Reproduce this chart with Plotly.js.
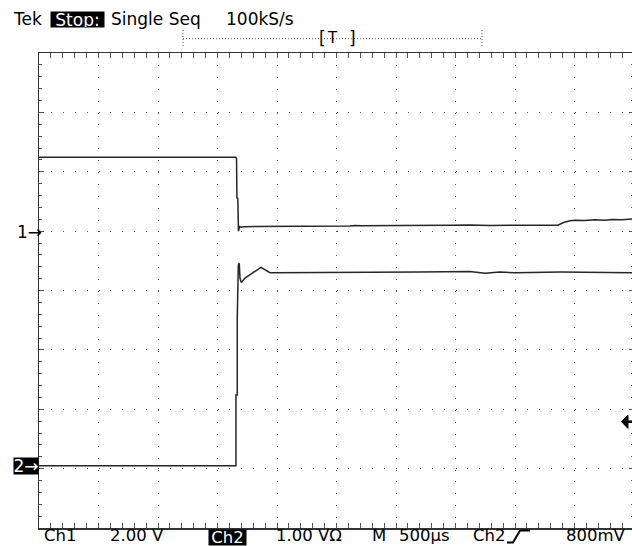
<!DOCTYPE html>
<html><head><meta charset="utf-8">
<script src="https://cdn.plot.ly/plotly-3.0.1.min.js"></script>
<style>html,body{margin:0;padding:0;overflow:hidden;background:#fff;width:632px;height:546px}</style>
</head><body><div id="chart"></div>
<script>
// ---- data (time in ms from left of screen, volts) ----
const ch1Time  = [0, 1.654, 1.660, 1.663, 1.671, 1.676, 1.686, 1.697, 1.723, 1.790, 1.815, 1.840, 1.874, 1.983, 2.193, 2.361, 2.613, 2.655, 2.714, 3.034, 3.286, 3.336, 3.454, 3.622, 3.790, 4.042, 4.361, 4.403, 4.462, 4.504, 4.588, 4.672, 4.756, 4.815, 4.899, 5.000];
const ch1Volts = [2.49, 2.49, 2.44, 1.13, 1.10, 0.00, 0.15, 0.13, 0.15, 0.15, 0.17, 0.15, 0.16, 0.15, 0.15, 0.16, 0.17, 0.19, 0.18, 0.19, 0.21, 0.19, 0.20, 0.21, 0.19, 0.20, 0.20, 0.28, 0.35, 0.37, 0.36, 0.38, 0.37, 0.39, 0.38, 0.41];
const ch2Time  = [0, 1.655, 1.655, 1.666, 1.666, 1.675, 1.683, 1.689, 1.697, 1.703, 1.731, 1.790, 1.866, 1.941, 2.200, 2.800, 3.200, 3.620, 3.750, 3.870, 4.000, 4.380, 4.720, 4.920, 5.000];
const ch2Volts = [0, 0, 1.19, 1.19, 2.49, 3.38, 3.41, 3.16, 3.10, 3.09, 3.16, 3.24, 3.34, 3.25, 3.25, 3.26, 3.26, 3.27, 3.24, 3.26, 3.25, 3.26, 3.25, 3.24, 3.25];

const headerTexts = ["Tek", "Stop:", "Single Seq", "100kS/s"];
const footerTexts = ["Ch1", "2.00 V", "Ch2", "1.00 VΩ", "M", "500µs", "Ch2", "800mV"];
const channelMarks = ["1→", "2→"];
const triggerMarks = ["[", "T", "]"];

// ---- layout geometry (pixels) ----
const W = 640, H = 546, L = 39, T = 53, PW = 595, PH = 475;
const px = x => (x - L) / PW;
const py = y => (T + PH - y) / PH;
const FONT = "DejaVu Sans";

function ann(text, x, y, opts) {
  return Object.assign({
    text: text, xref: 'paper', yref: 'paper', x: px(x), y: py(y),
    xanchor: 'left', yanchor: 'middle', showarrow: false, borderpad: 0,
    font: {family: FONT, size: 17, color: '#000'}
  }, opts || {});
}
const FY = 535.5;
const footFont = {family: FONT, size: 16.5, color: '#000'};

const annotations = [
  ann(headerTexts[0], 12, 18.5),
  ann(headerTexts[1], 77.5, 19.2, {xanchor: 'center', bgcolor: '#000', width: 53, height: 15, font: {family: FONT, size: 17, color: '#fff'}}),
  ann(headerTexts[2], 110, 18.5),
  ann(headerTexts[3], 225, 18.5),
  ann(footerTexts[0], 43, FY, {font: footFont}),
  ann(footerTexts[1], 109, FY, {font: footFont}),
  ann(footerTexts[2], 227.5, 537, {xanchor: 'center', bgcolor: '#000', width: 37, height: 15, font: {family: FONT, size: 16.5, color: '#fff'}}),
  ann(footerTexts[3], 275, FY, {font: footFont}),
  ann(footerTexts[4], 371, FY, {font: footFont}),
  ann(footerTexts[5], 398, FY, {font: footFont}),
  ann(footerTexts[6], 471.5, FY, {font: footFont}),
  ann(footerTexts[7], 565, FY, {font: footFont}),
  ann(channelMarks[0], 16, 232),
  ann(channelMarks[1], 26, 466, {xanchor: 'center', bgcolor: '#000', width: 24, height: 16, font: {family: FONT, size: 17, color: '#fff'}}),
  ann(triggerMarks[0], 322, 38.5, {xanchor: 'center', font: {family: FONT, size: 17, color: '#000'}}),
  ann(triggerMarks[1], 332, 38, {xanchor: 'center', font: {family: FONT, size: 15, color: '#000'}}),
  ann(triggerMarks[2], 352, 38.5, {xanchor: 'center', font: {family: FONT, size: 17, color: '#000'}})
];

function pline(x0, y0, x1, y1, color, width, dash) {
  return {type: 'line', xref: 'paper', yref: 'paper', x0: px(x0), y0: py(y0), x1: px(x1), y1: py(y1),
          line: {color: color, width: width, dash: dash || 'solid'}};
}
function ppath(points, close, fill, color, width) {
  let d = points.map((p, i) => (i ? 'L' : 'M') + px(p[0]) + ',' + py(p[1])).join(' ');
  if (close) d += ' Z';
  return {type: 'path', xref: 'paper', yref: 'paper', path: d,
          fillcolor: fill || 'rgba(0,0,0,0)', line: {color: color, width: width}};
}

const shapes = [
  pline(183, 38.7, 482, 38.7, '#555', 1, '1px,2px'),
  pline(183, 30, 183, 47, '#555', 1, '1px,2px'),
  pline(482, 30, 482, 47, '#555', 1, '1px,2px'),
  ppath([[621.5, 421.7], [628, 415], [628, 428.4]], true, '#000', '#000', 1),
  pline(627, 421.7, 633, 421.7, '#000', 2.5),
  ppath([[507, 542.5], [513, 542.5], [520, 530.5], [530, 530.5]], false, null, '#000', 2)
];

const gridDash = '1px,10.9px';
const axisCommon = {
  showgrid: true, gridcolor: '#555', gridwidth: 1, griddash: gridDash,
  showline: true, linecolor: '#333', linewidth: 1.5, mirror: 'allticks',
  ticks: 'inside', ticklen: 5, tickcolor: '#555', tickwidth: 1,
  showticklabels: false, zeroline: false, fixedrange: true
};

const data = [
  {x: ch1Time, y: ch1Volts, type: 'scatter', mode: 'lines', name: 'Ch1', yaxis: 'y',
   line: {color: '#262626', width: 1.5}, hoverinfo: 'skip'},
  {x: ch2Time, y: ch2Volts, type: 'scatter', mode: 'lines', name: 'Ch2', yaxis: 'y2',
   line: {color: '#262626', width: 1.5}, hoverinfo: 'skip'}
];

const layout = {
  width: W, height: H,
  margin: {l: L, r: W - L - PW, t: T, b: H - T - PH, pad: 0},
  paper_bgcolor: '#fff', plot_bgcolor: '#fff',
  showlegend: false,
  xaxis: Object.assign({}, axisCommon, {range: [0, 5], tick0: 0, dtick: 0.5,
    minor: {dtick: 0.1, ticks: 'inside', ticklen: 3, tickcolor: '#555', showgrid: false}}),
  yaxis: Object.assign({}, axisCommon, {range: [-10, 6], tick0: 0, dtick: 2,
    minor: {dtick: 0.4, ticks: 'inside', ticklen: 3, tickcolor: '#555', showgrid: false}}),
  yaxis2: {overlaying: 'y', range: [-1.05, 6.95], visible: false, fixedrange: true},
  annotations: annotations,
  shapes: shapes
};

Plotly.newPlot('chart', data, layout, {staticPlot: true, displayModeBar: false});
</script>
</body></html>
